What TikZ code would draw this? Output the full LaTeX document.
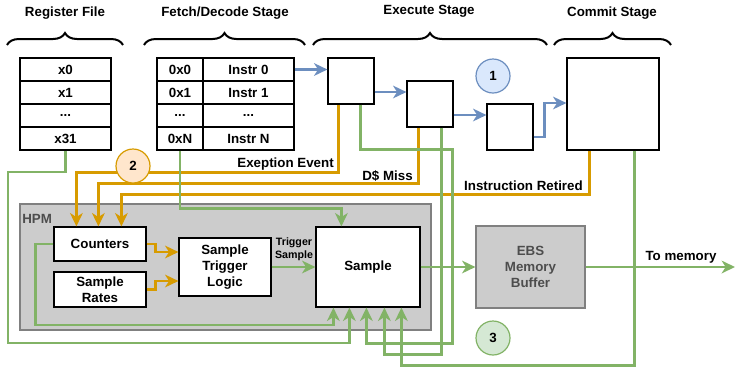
\documentclass[tikz,border=0pt]{standalone}
\usepackage{fontspec}
\setmainfont{Liberation Sans}
\usetikzlibrary{arrows.meta,calc,decorations.pathreplacing}
\definecolor{bluline}{HTML}{6C8EBF}
\definecolor{blufill}{HTML}{DAE8FC}
\definecolor{orline}{HTML}{D79B00}
\definecolor{orfill}{HTML}{FFE6CC}
\definecolor{grline}{HTML}{82B366}
\definecolor{grfill}{HTML}{D5E8D4}
\definecolor{panel}{HTML}{CCCCCC}
\definecolor{panelline}{HTML}{808080}
\definecolor{paneltext}{HTML}{4D4D4D}
\begin{document}
\begin{tikzpicture}[x=0.75pt,y=-0.75pt,
  font=\bfseries\fontsize{10}{12}\selectfont,
  box/.style={draw=black, line width=0.9pt, fill=white, inner sep=0pt, align=center},
  cell/.style={box, minimum height=17.25pt},
  graybox/.style={draw=panelline, line width=0.9pt, fill=panel, inner sep=0pt, align=center},
  title/.style={inner sep=0pt},
  tip/.style={-{Stealth[length=10pt,width=9.5pt,inset=3pt]}},
  bline/.style={draw=bluline, line width=1.7pt, tip},
  oline/.style={draw=orline, line width=1.7pt, tip},
  gline/.style={draw=grline, line width=1.7pt, tip},
  badge/.style={circle, minimum size=25.5pt, inner sep=0pt, line width=0.9pt},
  stagebrace/.style={draw=black, line width=1.5pt, decorate,
    decoration={brace, amplitude=9pt, aspect=0.5}},
  lbl/.style={inner sep=0pt}
]
\useasboundingbox (0,0) rectangle (735,369);

% stage titles and braces
\node[title] (tReg) at (65,13) {Register File};
\node[title] (tFetch) at (225,13) {Fetch/Decode Stage};
\node[title] (tExec) at (429,11) {Execute Stage};
\node[title] (tCommit) at (612,13) {Commit Stage};
\draw[stagebrace] (7,45) -- (123,45);
\draw[stagebrace] (144,45) -- (305,45);
\draw[stagebrace] (313,45) -- (547,45);
\draw[stagebrace] (554,45) -- (671,45);

% HPM panel
\node[graybox, minimum width=308.25pt, minimum height=94.5pt] (hpm) at (225.5,267) {};
\node[lbl, anchor=west, text=paneltext] (hpmlabel) at (22,219) {HPM};

% register file
\node[cell, minimum width=68.25pt] (r0) at (65.5,69.5) {x0};
\node[cell, minimum width=68.25pt] (r1) at (65.5,92.5) {x1};
\node[cell, minimum width=68.25pt] (r2) at (65.5,115.5) {...};
\node[cell, minimum width=68.25pt] (r3) at (65.5,138.5) {x31};

% instruction memory
\node[cell, minimum width=34.5pt] (a0) at (180,69.5) {0x0};
\node[cell, minimum width=34.5pt] (a1) at (180,92.5) {0x1};
\node[cell, minimum width=34.5pt] (a2) at (180,115.5) {...};
\node[cell, minimum width=34.5pt] (a3) at (180,138.5) {0xN};
\node[cell, minimum width=68.25pt] (i0) at (248.5,69.5) {Instr 0};
\node[cell, minimum width=68.25pt] (i1) at (248.5,92.5) {Instr 1};
\node[cell, minimum width=68.25pt] (i2) at (248.5,115.5) {...};
\node[cell, minimum width=68.25pt] (i3) at (248.5,138.5) {Instr N};

% pipeline stages
\node[box, minimum size=34.5pt] (e1) at (351,81) {};
\node[box, minimum size=34.5pt] (e2) at (430,104) {};
\node[box, minimum size=34.5pt] (e3) at (510,127) {};
\node[box, minimum size=69pt] (cm) at (613,104) {};

% HPM blocks
\node[box, minimum width=69pt, minimum height=25.5pt] (cnt) at (100,244) {Counters};
\node[box, minimum width=69pt, minimum height=26.25pt] (rt) at (100,289.5) {Sample\\Rates};
\node[box, minimum width=69pt, minimum height=43.5pt] (stl) at (225,267) {Sample\\Trigger\\Logic};
\node[box, minimum width=78pt, minimum height=60pt] (smp) at (368,267) {Sample};
\node[graybox, minimum width=81.75pt, minimum height=61.5pt, text=paneltext] (ebs) at (530.5,267) {EBS\\Memory\\Buffer};
\coordinate (mem) at (735,267);

% pipeline flow
\draw[bline] (i0.east) -- (i0.east -| e1.west);
\draw[bline] ($(e1.east)+(0,11)$) -- ($(e2.west)+(0,-12)$);
\draw[bline] ($(e2.east)+(0,11)$) -- ($(e3.west)+(0,-12)$);
\draw[bline] ($(e3.east)+(0,10)$) -- ++(11,0) |- ($(cm.west)+(0,-1)$);

% event signals into the counters
\draw[oline] ($(e1.south west)+(11,0)$) -- ++(0,68) -| ($(cnt.north west)+(23,0)$);
\draw[oline] ($(e2.south west)+(12,0)$) -- ++(0,56) -| ($(cnt.north west)+(45,0)$);
\draw[oline] ($(cm.south west)+(23,0)$) -- ++(0,44) -| ($(cnt.north west)+(68,0)$);
\node[lbl, anchor=east] (lexc) at (334,164) {Exeption Event};
\node[lbl, anchor=east] (ldm) at (413,176) {D\$ Miss};
\node[lbl, anchor=east] (lret) at (583,186) {Instruction Retired};

% trigger logic inputs
\draw[oline] (cnt.east) -- ++(9,0) |- ($(stl.west)+(0,-15)$);
\draw[oline] (rt.east) -- ++(9,0) |- ($(stl.west)+(0,14)$);

% sampled state
\draw[gline] (stl.east) -- (smp.west);
\node[lbl, align=center, font=\bfseries\fontsize{8}{9.5}\selectfont] (ltrig) at (294,249) {Trigger\\Sample};
\draw[gline] (smp.east) -- (ebs.west);
\draw[gline] (ebs.east) -- (mem);
\node[lbl] (lmem) at (681,257) {To memory};

\draw[gline] (r3.south) |- (8,172) -- (8,343) -| ($(smp.south west)+(34,0)$);
\draw[gline] (a3.south) -- ++(0,58) -| ($(smp.north west)+(26,0)$);
\draw[gline] (cnt.west) -- ++(-18,0) -- ++(0,81) -| ($(smp.south west)+(18,0)$);
\draw[gline] ($(e1.south west)+(33,0)$) -- ++(0,45) -- ++(92,0) -- ++(0,194) -| ($(smp.south west)+(51,0)$);
\draw[gline] ($(e2.south west)+(35,0)$) -- ++(0,227) -| ($(smp.south west)+(69,0)$);
\draw[gline] ($(cm.south west)+(68,0)$) -- ++(0,215) -| ($(smp.south west)+(86,0)$);

% numbered markers
\node[badge, draw=bluline, fill=blufill] (m1) at (493,76) {1};
\node[badge, draw=orline, fill=orfill] (m2) at (133,166) {2};
\node[badge, draw=grline, fill=grfill] (m3) at (493,338) {3};
\end{tikzpicture}
\end{document}
